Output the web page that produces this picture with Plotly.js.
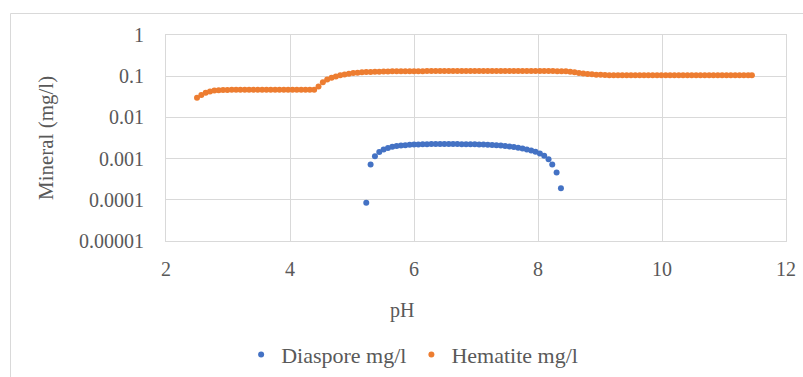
<!DOCTYPE html>
<html>
<head>
<meta charset="utf-8">
<script src="https://cdn.plot.ly/plotly-3.0.1.min.js"></script>
<style>
  html, body { margin: 0; padding: 0; background: #ffffff; }
  #chart { width: 803px; height: 377px; }
</style>
</head>
<body>
<div id="chart"></div>
<script>
// pH sweep used for the hematite series
const pH = [
  2.50, 2.57, 2.64, 2.71, 2.78, 2.85, 2.92, 2.99, 3.06, 3.13,
  3.20, 3.27, 3.34, 3.41, 3.48, 3.55, 3.62, 3.69, 3.76, 3.83,
  3.90, 3.97, 4.04, 4.11, 4.18, 4.25, 4.32, 4.39, 4.46, 4.53,
  4.60, 4.67, 4.74, 4.81, 4.88, 4.95, 5.02, 5.09, 5.16, 5.23,
  5.30, 5.37, 5.44, 5.51, 5.58, 5.65, 5.72, 5.79, 5.86, 5.93,
  6.00, 6.07, 6.14, 6.21, 6.28, 6.35, 6.42, 6.49, 6.56, 6.63,
  6.70, 6.77, 6.84, 6.91, 6.98, 7.05, 7.12, 7.19, 7.26, 7.33,
  7.40, 7.47, 7.54, 7.61, 7.68, 7.75, 7.82, 7.89, 7.96, 8.03,
  8.10, 8.17, 8.24, 8.31, 8.38, 8.45, 8.52, 8.59, 8.66, 8.73,
  8.80, 8.87, 8.94, 9.01, 9.08, 9.15, 9.22, 9.29, 9.36, 9.43,
  9.50, 9.57, 9.64, 9.71, 9.78, 9.85, 9.92, 9.99, 10.06, 10.13,
  10.20, 10.27, 10.34, 10.41, 10.48, 10.55, 10.62, 10.69, 10.76, 10.83,
  10.90, 10.97, 11.04, 11.11, 11.18, 11.25, 11.32, 11.39, 11.45
];

// Hematite concentration (mg/l) at each pH above
const hematite = [
  0.030, 0.035, 0.0395, 0.0428, 0.0447, 0.0456, 0.0462, 0.0465, 0.0467, 0.0467,
  0.0468, 0.0468, 0.0468, 0.0469, 0.0469, 0.0469, 0.0469, 0.0470, 0.0470, 0.0470,
  0.0470, 0.0470, 0.0470, 0.0470, 0.0470, 0.0470, 0.0471, 0.0472, 0.056, 0.071,
  0.083, 0.092, 0.099, 0.105, 0.110, 0.115, 0.119, 0.122, 0.124, 0.126,
  0.127, 0.128, 0.129, 0.130, 0.130, 0.131, 0.131, 0.131, 0.132, 0.132,
  0.132, 0.132, 0.132, 0.133, 0.133, 0.133, 0.133, 0.133, 0.133, 0.133,
  0.133, 0.133, 0.133, 0.133, 0.133, 0.133, 0.133, 0.133, 0.133, 0.133,
  0.133, 0.133, 0.133, 0.133, 0.133, 0.133, 0.133, 0.133, 0.133, 0.133,
  0.133, 0.133, 0.133, 0.132, 0.132, 0.131, 0.128, 0.124, 0.120, 0.116,
  0.113, 0.111, 0.109, 0.108, 0.107, 0.106, 0.106, 0.106, 0.106, 0.106,
  0.106, 0.106, 0.106, 0.106, 0.106, 0.106, 0.106, 0.106, 0.106, 0.106,
  0.105, 0.105, 0.105, 0.105, 0.105, 0.105, 0.105, 0.105, 0.105, 0.105,
  0.105, 0.105, 0.105, 0.105, 0.105, 0.105, 0.105, 0.105, 0.105
];

// Diaspore only precipitates over part of the sweep
const diasporePH = [
  5.23, 5.30, 5.37, 5.44, 5.51, 5.58, 5.65, 5.72, 5.79, 5.86,
  5.93, 6.00, 6.07, 6.14, 6.21, 6.28, 6.35, 6.42, 6.49, 6.56,
  6.63, 6.70, 6.77, 6.84, 6.91, 6.98, 7.05, 7.12, 7.19, 7.26,
  7.33, 7.40, 7.47, 7.54, 7.61, 7.68, 7.75, 7.82, 7.89, 7.96,
  8.03, 8.10, 8.17, 8.23, 8.30, 8.37
];

const diaspore = [
  0.000085, 0.00072, 0.00114, 0.00145, 0.00166, 0.00182, 0.00193, 0.00201, 0.00207, 0.00212,
  0.00216, 0.00219, 0.00221, 0.00223, 0.00224, 0.00225, 0.00226, 0.00226, 0.00226, 0.00226,
  0.00225, 0.00225, 0.00224, 0.00224, 0.00223, 0.00222, 0.00221, 0.00219, 0.00217, 0.00214,
  0.00211, 0.00207, 0.00202, 0.00197, 0.00190, 0.00183, 0.00175, 0.00166, 0.00157, 0.00146,
  0.00133, 0.00117, 0.00097, 0.00072, 0.00046, 0.00019
];

const seriesNames = ['Diaspore mg/l', 'Hematite mg/l'];
const yTickVals = [0.00001, 0.0001, 0.001, 0.01, 0.1, 1];
const yTickText = ['0.00001', '0.0001', '0.001', '0.01', '0.1', '1'];
const xTickVals = [2, 4, 6, 8, 10, 12];

const serif = '"Liberation Serif", "Times New Roman", serif';
const textGrey = '#595959';
const gridGrey = '#d9d9d9';

const traces = [
  {
    x: diasporePH, y: diaspore, name: seriesNames[0],
    type: 'scatter', mode: 'markers',
    marker: { color: '#4472C4', size: 6, line: { width: 0 } }
  },
  {
    x: pH, y: hematite, name: seriesNames[1],
    type: 'scatter', mode: 'markers',
    marker: { color: '#ED7D31', size: 6, line: { width: 0 } }
  }
];

const layout = {
  width: 803, height: 377,
  margin: { l: 166, r: 17, t: 35, b: 136, autoexpand: false },
  paper_bgcolor: '#ffffff', plot_bgcolor: '#ffffff',
  font: { family: serif, size: 20, color: textGrey },
  showlegend: true,
  legend: {
    orientation: 'h', x: 0.397, xanchor: 'center', y: -0.552, yanchor: 'middle',
    font: { family: serif, size: 22, color: textGrey },
    itemwidth: 30, traceorder: 'normal', bgcolor: 'rgba(0,0,0,0)'
  },
  xaxis: {
    range: [2, 12], tickvals: xTickVals, ticks: '',
    showgrid: true, gridcolor: gridGrey, gridwidth: 1,
    showline: true, linecolor: gridGrey, linewidth: 1, mirror: true,
    zeroline: false, ticklabelstandoff: 10,
    tickfont: { family: serif, size: 20, color: textGrey }
  },
  yaxis: {
    type: 'log', range: [-5, 0], tickvals: yTickVals, ticktext: yTickText, ticks: '',
    showgrid: true, gridcolor: gridGrey, gridwidth: 1,
    showline: true, linecolor: gridGrey, linewidth: 1, mirror: true,
    zeroline: false, ticklabelstandoff: 17,
    tickfont: { family: serif, size: 20, color: textGrey }
  },
  annotations: [
    {
      text: 'pH', xref: 'paper', yref: 'paper', x: 0.381, y: -0.335,
      xanchor: 'center', yanchor: 'middle', showarrow: false,
      font: { family: serif, size: 20, color: textGrey }
    },
    {
      text: 'Mineral (mg/l)', xref: 'paper', yref: 'paper', x: -0.1935, y: 0.5,
      xanchor: 'center', yanchor: 'middle', textangle: -90, showarrow: false,
      font: { family: serif, size: 21, color: textGrey }
    }
  ],
  shapes: [
    {
      type: 'rect', xref: 'paper', yref: 'paper', layer: 'below',
      x0: -0.2508, x1: 1.05, y0: -0.75, y1: 1.1044,
      line: { color: gridGrey, width: 1 }, fillcolor: 'rgba(0,0,0,0)'
    }
  ]
};

Plotly.newPlot('chart', traces, layout, { staticPlot: true, displayModeBar: false });
</script>
</body>
</html>
